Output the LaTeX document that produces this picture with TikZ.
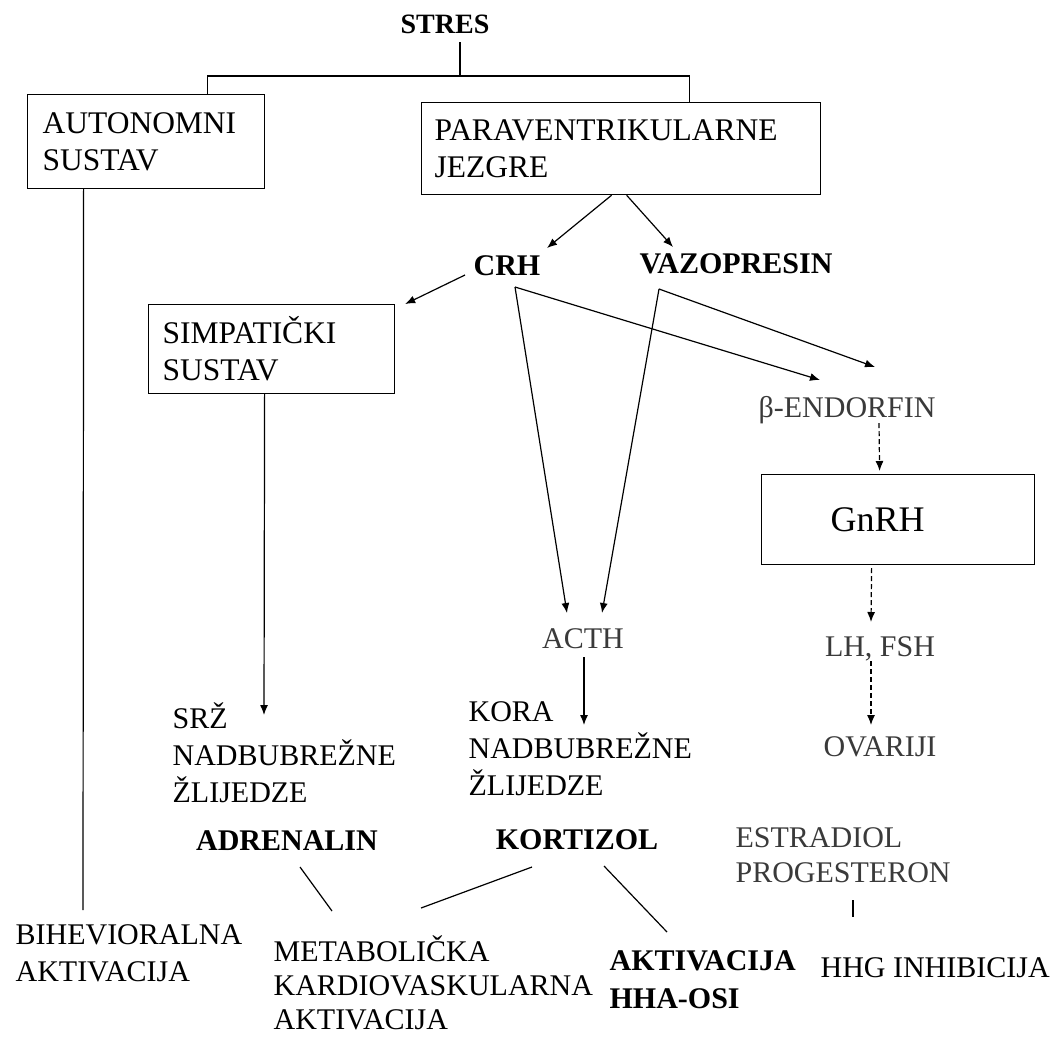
\documentclass[tikz,border=0pt]{standalone}
\usepackage{fontspec}
\setmainfont{Liberation Serif}
\usepackage{tikz}
\usetikzlibrary{positioning,calc,arrows.meta}
\definecolor{txtgray}{RGB}{58,58,58}

\begin{document}
\begin{tikzpicture}[x=1pt,y=-1pt,line width=1.2pt,
  every node/.style = {inner sep=0pt, font=\fontsize{30}{37}\selectfont},
  lbl/.style = {anchor=base},
  blk/.style = {anchor=north west, align=left, execute at begin node=\strut},
  hb/.style = {font=\fontsize{30}{37}\selectfont\bfseries},
  gr/.style = {text=txtgray},
  sbox/.style = {draw, anchor=north west, align=left, inner ysep=0pt, font=\fontsize{31.5}{37}\selectfont},
  dsh/.style = {dash pattern=on 5pt off 3pt},
  >={Latex[length=10pt,width=8pt]}
  ]
  \useasboundingbox (0,0) rectangle (1056,1037);

  \node[lbl, font=\fontsize{28}{34}\selectfont\bfseries] (stres) at (445,33) {STRES};
  \node[sbox, text width=207pt, inner xsep=15pt, minimum height=94pt] (autbox) at (27,94) {AUTONOMNI\\SUSTAV};
  \node[sbox, text width=373pt, inner xsep=13pt, minimum height=92pt] (parabox) at (421,102) {PARAVENTRIKULARNE\\JEZGRE};
  \node[lbl, hb] (crh) at (507,275) {CRH};
  \node[lbl, hb] (vazo) at (736,273) {VAZOPRESIN};
  \node[sbox, text width=218pt, inner xsep=14pt, minimum height=89pt] (simpbox) at (148,304) {SIMPATIČKI\\SUSTAV};
  \node[lbl, gr, anchor=base west] (bend) at (758,417) {β-ENDORFIN};
  \node[sbox, text width=135pt, inner xsep=69pt, minimum height=90pt, font=\fontsize{36}{40}\selectfont] (gnrhbox) at (761,474) {GnRH};
  \node[lbl, gr] (acth) at (583,648) {ACTH};
  \node[lbl, gr] (lhfsh) at (880,656) {LH, FSH};
  \node[lbl, gr] (ovar) at (880,756) {OVARIJI};
  \node[blk] (srz) at (172,702) {SRŽ\\NADBUBREŽNE\\ŽLIJEDZE};
  \node[blk] (kora) at (468,701) {KORA\\NADBUBREŽNE\\ŽLIJEDZE};
  \node[lbl, hb] (adren) at (287,850) {ADRENALIN};
  \node[lbl, hb] (kort) at (577,849) {KORTIZOL};
  \node[blk, gr, font=\fontsize{30}{35}\selectfont] (estr) at (735,827.5) {ESTRADIOL\\PROGESTERON};
  \node[blk] (bihev) at (15,924) {BIHEVIORALNA\\AKTIVACIJA};
  \node[blk, font=\fontsize{30}{34}\selectfont] (metab) at (273,935) {METABOLIČKA\\KARDIOVASKULARNA\\AKTIVACIJA};
  \node[blk, font=\fontsize{30}{38}\selectfont\bfseries] (hha) at (609,950) {AKTIVACIJA\\HHA-OSI};
  \node[lbl, anchor=base west] (hhg) at (820,977) {HHG INHIBICIJA};

  \coordinate (split) at (460,76);
  \draw ($(stres.base -| split)+(0,9)$) -- (split);
  \draw ([xshift=61.5pt]autbox.north) |- (split) -| ([xshift=68.5pt]parabox.north);
  \draw ([xshift=-62.5pt]autbox.south) -- ([xshift=68pt,yshift=14pt]bihev.north west);

  \draw[->] ([xshift=-9.5pt]parabox.south) -- ([xshift=40pt,yshift=27pt]crh.base);
  \draw[->] ([xshift=5.5pt]parabox.south) -- ([xshift=-63pt,yshift=26pt]vazo.base);
  \draw[->] ([xshift=-42pt]crh.base) -- ([xshift=10pt]simpbox.north east);
  \draw[->] ([xshift=-7pt]simpbox.south) -- ([xshift=92pt,yshift=-13pt]srz.north west);

  \draw[->] ([xshift=8pt,yshift=-12pt]crh.base) -- ([xshift=-16pt,yshift=35pt]acth.base);
  \draw[->] ([xshift=8pt,yshift=-12pt]crh.base) -- ([xshift=62pt,yshift=37pt]bend.base west);
  \draw[->] ([xshift=-77pt,yshift=-16pt]vazo.base) -- ([xshift=19pt,yshift=35pt]acth.base);
  \draw[->] ([xshift=-77pt,yshift=-16pt]vazo.base) -- ([xshift=117pt,yshift=50pt]bend.base west);

  \draw[->, dsh] ([xshift=121pt,yshift=-6pt]bend.base west) -- ([xshift=-18.5pt,yshift=3pt]gnrhbox.north);
  \draw[->, dsh] ([xshift=-26.5pt,yshift=-3pt]gnrhbox.south) -- ([xshift=-9pt,yshift=34pt]lhfsh.base);
  \draw[->, dsh] ([xshift=-9pt,yshift=-5pt]lhfsh.base) -- ([xshift=-9pt,yshift=31pt]ovar.base);
  \draw[->] ([xshift=1pt,yshift=-9pt]acth.base) -- ([xshift=116pt,yshift=-24pt]kora.north west);

  \draw ([xshift=13pt,yshift=-17pt]adren.base) -- ([xshift=59pt,yshift=24pt]metab.north west);
  \draw ([xshift=-45pt,yshift=-18pt]kort.base) -- ([xshift=148pt,yshift=27pt]metab.north west);
  \draw ([xshift=27pt,yshift=-17pt]kort.base) -- ([xshift=58pt,yshift=18pt]hha.north west);
  \draw ([xshift=33pt,yshift=77pt]hhg.base west) -- ([xshift=33pt,yshift=60pt]hhg.base west);
\end{tikzpicture}
\end{document}
